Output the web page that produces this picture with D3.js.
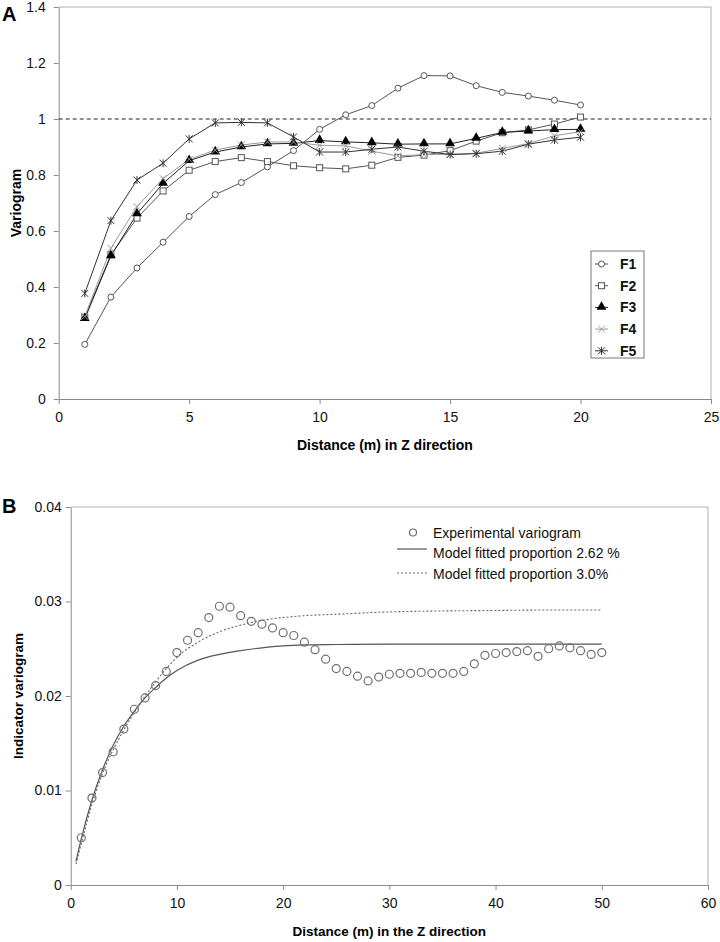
<!DOCTYPE html>
<html>
<head>
<meta charset="utf-8">
<script src="https://cdn.jsdelivr.net/npm/d3@7"></script>
<style>
  body { margin: 0; background: #fff; }
  text { font-family: "Liberation Sans", Arial, sans-serif; }
</style>
</head>
<body>
<svg id="chart" width="720" height="942"></svg>
<script>
// panel A - variograms per facies
var distA = [1, 2, 3, 4, 5, 6, 7, 8, 9, 10, 11, 12, 13, 14, 15, 16, 17, 18, 19, 20];
var f1 = [0.195, 0.364, 0.468, 0.560, 0.652, 0.730, 0.773, 0.829, 0.887, 0.963, 1.015, 1.048, 1.110, 1.155, 1.154, 1.119, 1.095, 1.082, 1.067, 1.050];
var f2 = [0.292, 0.515, 0.646, 0.743, 0.817, 0.848, 0.862, 0.848, 0.833, 0.826, 0.822, 0.835, 0.863, 0.871, 0.887, 0.921, 0.951, 0.961, 0.982, 1.007];
var f3 = [0.287, 0.511, 0.661, 0.770, 0.851, 0.882, 0.900, 0.911, 0.913, 0.923, 0.918, 0.915, 0.910, 0.911, 0.911, 0.931, 0.952, 0.957, 0.962, 0.963];
var f4 = [0.295, 0.538, 0.687, 0.787, 0.856, 0.889, 0.907, 0.918, 0.918, 0.906, 0.904, 0.885, 0.868, 0.873, 0.874, 0.878, 0.895, 0.912, 0.940, 0.955];
var f5 = [0.377, 0.637, 0.782, 0.842, 0.929, 0.986, 0.988, 0.986, 0.936, 0.882, 0.882, 0.892, 0.900, 0.885, 0.873, 0.876, 0.885, 0.910, 0.925, 0.935];
var namesA = ["F1", "F2", "F3", "F4", "F5"];
var xTicksA = [0, 5, 10, 15, 20, 25];
var yTicksA = [0, 0.2, 0.4, 0.6, 0.8, 1, 1.2, 1.4];

// panel B - indicator variogram and fitted models
var distB = [1, 2, 3, 4, 5, 6, 7, 8, 9, 10, 11, 12, 13, 14, 15, 16, 17, 18, 19, 20, 21, 22, 23, 24, 25,
             26, 27, 28, 29, 30, 31, 32, 33, 34, 35, 36, 37, 38, 39, 40, 41, 42, 43, 44, 45, 46, 47, 48, 49, 50];
var expB = [0.0050, 0.0092, 0.0119, 0.0141, 0.0165, 0.0186, 0.0198, 0.0211, 0.0226, 0.0246,
            0.0259, 0.0267, 0.0283, 0.0295, 0.0294, 0.0285, 0.0279, 0.0276, 0.0272, 0.0267,
            0.0264, 0.0257, 0.0249, 0.0239, 0.0229, 0.0226, 0.0221, 0.0216, 0.0220, 0.0223,
            0.0224, 0.0224, 0.0225, 0.0224, 0.0224, 0.0224, 0.0226, 0.0234, 0.0243, 0.0245,
            0.0246, 0.0247, 0.0248, 0.0242, 0.0250, 0.0253, 0.0251, 0.0248, 0.0244, 0.0246];
var modelX = [0.5, 1, 2, 3, 4, 5, 6, 7, 8, 9, 10, 12, 14, 16, 18, 20, 22, 25, 30, 35, 40, 45, 50];
var model262 = [0.0025, 0.0049, 0.0090, 0.0122, 0.0148, 0.0168, 0.0184, 0.0198, 0.0209, 0.0219, 0.0227, 0.0238, 0.0244,
                0.0248, 0.0251, 0.0253, 0.0254, 0.02545, 0.0255, 0.0255, 0.0255, 0.0255, 0.0255];
var model30 = [0.0022, 0.0044, 0.0085, 0.0118, 0.0143, 0.0164, 0.0183, 0.0200, 0.0215, 0.0229, 0.0241, 0.0257, 0.0268,
               0.0275, 0.0280, 0.0283, 0.0285, 0.02865, 0.0289, 0.0290, 0.02905, 0.0291, 0.0291];
var legendB = ["Experimental variogram", "Model fitted proportion 2.62 %", "Model fitted proportion 3.0%"];
var xTicksB = [0, 10, 20, 30, 40, 50, 60];
var yTicksB = [0, 0.01, 0.02, 0.03, 0.04];

var svg = d3.select("#chart");
var axisColor = "#8a8a8a";

function styleAxis(g) {
    g.select(".domain").attr("stroke", axisColor);
    g.selectAll(".tick line").attr("stroke", axisColor);
    g.selectAll(".tick text").attr("fill", "#111").style("font-size", "14px")
        .style("font-family", "'Liberation Sans', Arial, sans-serif");
}

function drawFrame(x, y) {
    var r = x.range(), t = y.range();
    svg.append("path")
        .attr("d", "M" + r[0] + "," + t[1] + "H" + r[1] + "V" + t[0])
        .attr("fill", "none").attr("stroke", "#b0b0b0");
}

function drawAxes(x, y, xt, yt, fmtY, pad) {
    var r = x.range(), t = y.range();
    svg.append("g").attr("transform", "translate(0," + t[0] + ")")
        .call(d3.axisBottom(x).tickValues(xt).tickSize(5).tickSizeOuter(0).tickPadding(8).tickFormat(d3.format("d")))
        .call(styleAxis);
    svg.append("g").attr("transform", "translate(" + r[0] + ",0)")
        .call(d3.axisLeft(y).tickValues(yt).tickSize(5).tickSizeOuter(0).tickPadding(pad).tickFormat(fmtY))
        .call(styleAxis);
}

function markerPath(type) {
    if (type == "x") return "M-3.5,-3.5L3.5,3.5M-3.5,3.5L3.5,-3.5";
    if (type == "star") return "M-3.5,-3.5L3.5,3.5M-3.5,3.5L3.5,-3.5M0,-4L0,4";
    if (type == "tri") return d3.symbol().type(d3.symbolTriangle).size(42)();
    return null;
}

function drawMarker(g, type, color) {
    if (type == "circle") {
        g.append("circle").attr("r", 3).attr("fill", "#fff").attr("stroke", color);
    } else if (type == "square") {
        g.append("rect").attr("x", -3).attr("y", -3).attr("width", 6).attr("height", 6)
            .attr("fill", "#fff").attr("stroke", color);
    } else if (type == "tri") {
        g.append("path").attr("d", markerPath(type)).attr("fill", "#000").attr("transform", "translate(0,-0.5)");
    } else {
        g.append("path").attr("d", markerPath(type)).attr("fill", "none").attr("stroke", color);
    }
}

// ---------- panel A ----------
var xA = d3.scaleLinear().domain([0, 25]).range([58.7, 711]);
var yA = d3.scaleLinear().domain([0, 1.4]).range([399, 7]);

drawFrame(xA, yA);
drawAxes(xA, yA, xTicksA, yTicksA, function (d) { return String(d); }, 8);

svg.append("line")
    .attr("x1", xA(0)).attr("x2", xA(25)).attr("y1", yA(1)).attr("y2", yA(1))
    .attr("stroke", "#222").attr("stroke-width", 1.1).attr("stroke-dasharray", "4,3");

var seriesA = [
    { name: namesA[0], values: f1, marker: "circle", color: "#555" },
    { name: namesA[1], values: f2, marker: "square", color: "#555" },
    { name: namesA[2], values: f3, marker: "tri", color: "#222" },
    { name: namesA[3], values: f4, marker: "x", color: "#9a9a9a" },
    { name: namesA[4], values: f5, marker: "star", color: "#333" }
];

var lineA = d3.line()
    .x(function (d, i) { return xA(distA[i]); })
    .y(function (d) { return yA(d); });

seriesA.forEach(function (s) {
    svg.append("path").attr("d", lineA(s.values))
        .attr("fill", "none").attr("stroke", s.color).attr("stroke-width", 1);
});
seriesA.forEach(function (s) {
    s.values.forEach(function (v, i) {
        var g = svg.append("g").attr("transform", "translate(" + xA(distA[i]) + "," + yA(v) + ")");
        drawMarker(g, s.marker, s.color);
    });
});

// legend A
svg.append("rect").attr("x", 591).attr("y", 251).attr("width", 53).attr("height", 107)
    .attr("fill", "#fff").attr("stroke", "#777");
seriesA.forEach(function (s, i) {
    var ly = 264 + i * 21.7;
    svg.append("line").attr("x1", 595).attr("x2", 608).attr("y1", ly).attr("y2", ly)
        .attr("stroke", s.color);
    var g = svg.append("g").attr("transform", "translate(601.5," + ly + ")");
    drawMarker(g, s.marker, s.color);
    svg.append("text").attr("x", 620).attr("y", ly + 5).text(s.name)
        .style("font-size", "14px").style("font-weight", "bold").attr("fill", "#111");
});

svg.append("text").attr("x", xA(12.5)).attr("y", 450).attr("text-anchor", "middle")
    .style("font-size", "14px").style("font-weight", "bold").text("Distance (m) in Z direction");
svg.append("text").attr("transform", "translate(21," + yA(0.7) + ") rotate(-90)").attr("text-anchor", "middle")
    .style("font-size", "14px").style("font-weight", "bold").text("Variogram");
svg.append("text").attr("x", 2).attr("y", 21)
    .style("font-size", "20px").style("font-weight", "bold").text("A");

// ---------- panel B ----------
var xB = d3.scaleLinear().domain([0, 60]).range([70.7, 708]);
var yB = d3.scaleLinear().domain([0, 0.04]).range([885, 507]);

drawFrame(xB, yB);
drawAxes(xB, yB, xTicksB, yTicksB, function (d) { return d === 0 ? "0" : d3.format(".2f")(d); }, 4);

var lineB = d3.line()
    .x(function (d, i) { return xB(modelX[i]); })
    .y(function (d) { return yB(d); })
    .curve(d3.curveMonotoneX);

svg.append("path").attr("d", lineB(model30))
    .attr("fill", "none").attr("stroke", "#666").attr("stroke-width", 1.1).attr("stroke-dasharray", "2,2");
svg.append("path").attr("d", lineB(model262))
    .attr("fill", "none").attr("stroke", "#555").attr("stroke-width", 1.2);

svg.append("g").selectAll("circle").data(expB).enter().append("circle")
    .attr("cx", function (d, i) { return xB(distB[i]); })
    .attr("cy", function (d) { return yB(d); })
    .attr("r", 4)
    .attr("fill", "none").attr("stroke", "#707070").attr("stroke-width", 1.2);

// legend B
svg.append("circle").attr("cx", 413).attr("cy", 532.5).attr("r", 3.5)
    .attr("fill", "none").attr("stroke", "#707070").attr("stroke-width", 1.2);
svg.append("line").attr("x1", 397).attr("x2", 427).attr("y1", 549).attr("y2", 549)
    .attr("stroke", "#555").attr("stroke-width", 1.2);
svg.append("line").attr("x1", 397).attr("x2", 427).attr("y1", 573).attr("y2", 573)
    .attr("stroke", "#666").attr("stroke-width", 1.1).attr("stroke-dasharray", "2,2");
legendB.forEach(function (t, i) {
    svg.append("text").attr("x", 433).attr("y", 537.5 + i * 20.8).text(t)
        .style("font-size", "14px").attr("fill", "#111");
});

svg.append("text").attr("x", xB(30)).attr("y", 936).attr("text-anchor", "middle")
    .style("font-size", "13.5px").style("font-weight", "bold").text("Distance (m) in the Z direction");
svg.append("text").attr("transform", "translate(23," + yB(0.02) + ") rotate(-90)").attr("text-anchor", "middle")
    .style("font-size", "13.5px").style("font-weight", "bold").text("Indicator variogram");
svg.append("text").attr("x", 2).attr("y", 513)
    .style("font-size", "20px").style("font-weight", "bold").text("B");
</script>
</body>
</html>
